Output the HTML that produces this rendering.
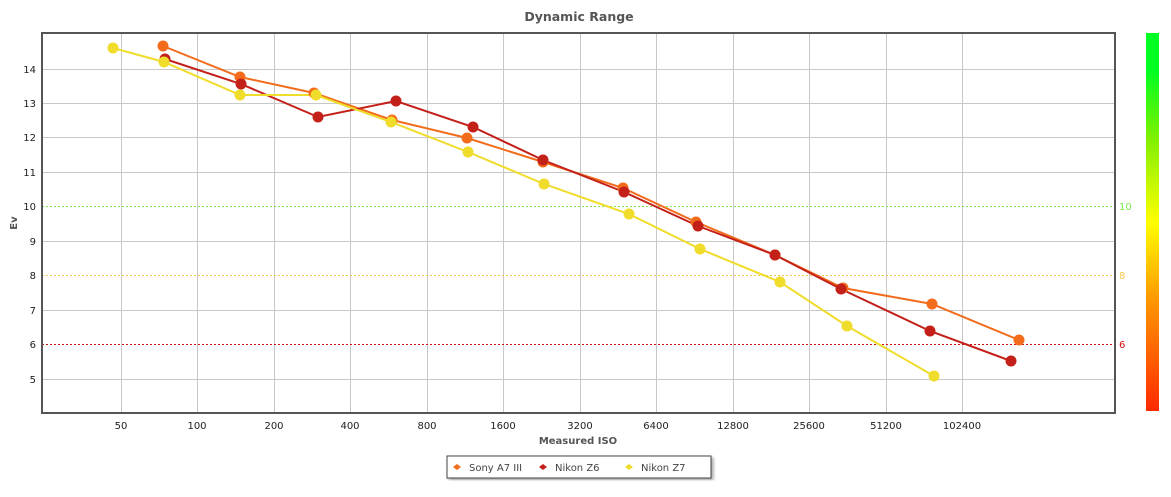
<!DOCTYPE html>
<html><head><meta charset="utf-8"><style>
body{margin:0;background:#fff;}
svg{display:block;font-family:"DejaVu Sans","Liberation Sans",sans-serif;}
</style></head><body>
<svg width="1171" height="497" viewBox="0 0 1171 497">
<defs>
<linearGradient id="cb" x1="0" y1="1" x2="0" y2="0">
<stop offset="0" stop-color="#ff2a00"/>
<stop offset="0.3" stop-color="#ff9a00"/>
<stop offset="0.5" stop-color="#ffff00"/>
<stop offset="0.72" stop-color="#80f000"/>
<stop offset="0.9" stop-color="#00ff22"/>
<stop offset="1" stop-color="#00ff22"/>
</linearGradient>
<filter id="sh"><feDropShadow dx="2" dy="2" stdDeviation="1.5" flood-color="#000" flood-opacity="0.35"/></filter>
</defs>
<text x="579" y="21" text-anchor="middle" font-size="12.5" font-weight="bold" fill="#555">Dynamic Range</text>
<g stroke="#c8c8c8" stroke-width="1">
<line x1="121.5" y1="33" x2="121.5" y2="413"/><line x1="197.5" y1="33" x2="197.5" y2="413"/>
<line x1="274.5" y1="33" x2="274.5" y2="413"/><line x1="350.5" y1="33" x2="350.5" y2="413"/>
<line x1="427.5" y1="33" x2="427.5" y2="413"/><line x1="503.5" y1="33" x2="503.5" y2="413"/>
<line x1="580.5" y1="33" x2="580.5" y2="413"/><line x1="656.5" y1="33" x2="656.5" y2="413"/>
<line x1="733.5" y1="33" x2="733.5" y2="413"/><line x1="809.5" y1="33" x2="809.5" y2="413"/>
<line x1="886.5" y1="33" x2="886.5" y2="413"/><line x1="962.5" y1="33" x2="962.5" y2="413"/>
<line x1="42" y1="69.5" x2="1115" y2="69.5"/><line x1="42" y1="103.5" x2="1115" y2="103.5"/>
<line x1="42" y1="137.5" x2="1115" y2="137.5"/><line x1="42" y1="172.5" x2="1115" y2="172.5"/>
<line x1="42" y1="241.5" x2="1115" y2="241.5"/><line x1="42" y1="310.5" x2="1115" y2="310.5"/>
<line x1="42" y1="379.5" x2="1115" y2="379.5"/>
</g>
<line x1="42" y1="206.5" x2="1115" y2="206.5" stroke="#7de84a" stroke-dasharray="2,2"/>
<line x1="42" y1="275.5" x2="1115" y2="275.5" stroke="#f8c850" stroke-dasharray="2,2"/>
<line x1="42" y1="344.5" x2="1115" y2="344.5" stroke="#d01010" stroke-dasharray="2,2"/>
<rect x="42" y="33" width="1073" height="380" fill="none" stroke="#555" stroke-width="2"/>
<g font-size="10" fill="#222" text-anchor="end">
<text x="36" y="73">14</text><text x="36" y="107">13</text><text x="36" y="141">12</text>
<text x="36" y="176">11</text><text x="36" y="210">10</text><text x="36" y="245">9</text>
<text x="36" y="279">8</text><text x="36" y="314">7</text><text x="36" y="348">6</text><text x="36" y="383">5</text>
</g>
<g font-size="10">
<text x="1119" y="210" fill="#7de84a">10</text><text x="1119" y="279" fill="#f8c850">8</text><text x="1119" y="348" fill="#d01010">6</text>
</g>
<text x="17" y="223" font-size="10" font-weight="bold" fill="#555" transform="rotate(-90 17 223)" text-anchor="middle">Ev</text>
<g font-size="10" fill="#222" text-anchor="middle">
<text x="121" y="429">50</text><text x="197" y="429">100</text><text x="274" y="429">200</text>
<text x="350" y="429">400</text><text x="427" y="429">800</text><text x="503" y="429">1600</text>
<text x="580" y="429">3200</text><text x="656" y="429">6400</text><text x="733" y="429">12800</text>
<text x="809" y="429">25600</text><text x="886" y="429">51200</text><text x="962" y="429">102400</text>
</g>
<text x="578" y="444" text-anchor="middle" font-size="10" font-weight="bold" fill="#555">Measured ISO</text>
<rect x="1146" y="33" width="13" height="378" fill="url(#cb)"/>
<g fill="none" stroke-width="2">
<polyline stroke="#f26c1c" points="163,46 240,77 314,93 392,120 467,138 543,162 623,188 696,222 775,255 843,288 932,304 1019,340"/>
<polyline stroke="#c4201a" points="165,59 241,84 318,117 396,101 473,127 543,160 624,192 698,226 775,255 841,289 930,331 1011,361"/>
<polyline stroke="#f0dc2a" points="113,48 164,62 240,95 316,95 391,122 468,152 544,184 629,214 700,249 780,282 847,326 934,376"/>
</g>
<g fill="#f26c1c"><circle cx="163" cy="46" r="5.5"/><circle cx="240" cy="77" r="5.5"/><circle cx="314" cy="93" r="5.5"/><circle cx="392" cy="120" r="5.5"/><circle cx="467" cy="138" r="5.5"/><circle cx="543" cy="162" r="5.5"/><circle cx="623" cy="188" r="5.5"/><circle cx="696" cy="222" r="5.5"/><circle cx="775" cy="255" r="5.5"/><circle cx="843" cy="288" r="5.5"/><circle cx="932" cy="304" r="5.5"/><circle cx="1019" cy="340" r="5.5"/></g>
<g fill="#c4201a"><circle cx="165" cy="59" r="5.5"/><circle cx="241" cy="84" r="5.5"/><circle cx="318" cy="117" r="5.5"/><circle cx="396" cy="101" r="5.5"/><circle cx="473" cy="127" r="5.5"/><circle cx="543" cy="160" r="5.5"/><circle cx="624" cy="192" r="5.5"/><circle cx="698" cy="226" r="5.5"/><circle cx="775" cy="255" r="5.5"/><circle cx="841" cy="289" r="5.5"/><circle cx="930" cy="331" r="5.5"/><circle cx="1011" cy="361" r="5.5"/></g>
<g fill="#f0dc2a"><circle cx="113" cy="48" r="5.5"/><circle cx="164" cy="62" r="5.5"/><circle cx="240" cy="95" r="5.5"/><circle cx="316" cy="95" r="5.5"/><circle cx="391" cy="122" r="5.5"/><circle cx="468" cy="152" r="5.5"/><circle cx="544" cy="184" r="5.5"/><circle cx="629" cy="214" r="5.5"/><circle cx="700" cy="249" r="5.5"/><circle cx="780" cy="282" r="5.5"/><circle cx="847" cy="326" r="5.5"/><circle cx="934" cy="376" r="5.5"/></g>
<rect x="447" y="456" width="264" height="22" fill="#fff" stroke="#444" stroke-width="1" filter="url(#sh)"/>
<g font-size="10" fill="#444">
<path d="M453 467 l4 -3 l4 3 l-4 3z" fill="#f26c1c"/><text x="469" y="471">Sony A7 III</text>
<path d="M539 467 l4 -3 l4 3 l-4 3z" fill="#c4201a"/><text x="555" y="471">Nikon Z6</text>
<path d="M625 467 l4 -3 l4 3 l-4 3z" fill="#f0dc2a"/><text x="641" y="471">Nikon Z7</text>
</g>
</svg>
</body></html>
